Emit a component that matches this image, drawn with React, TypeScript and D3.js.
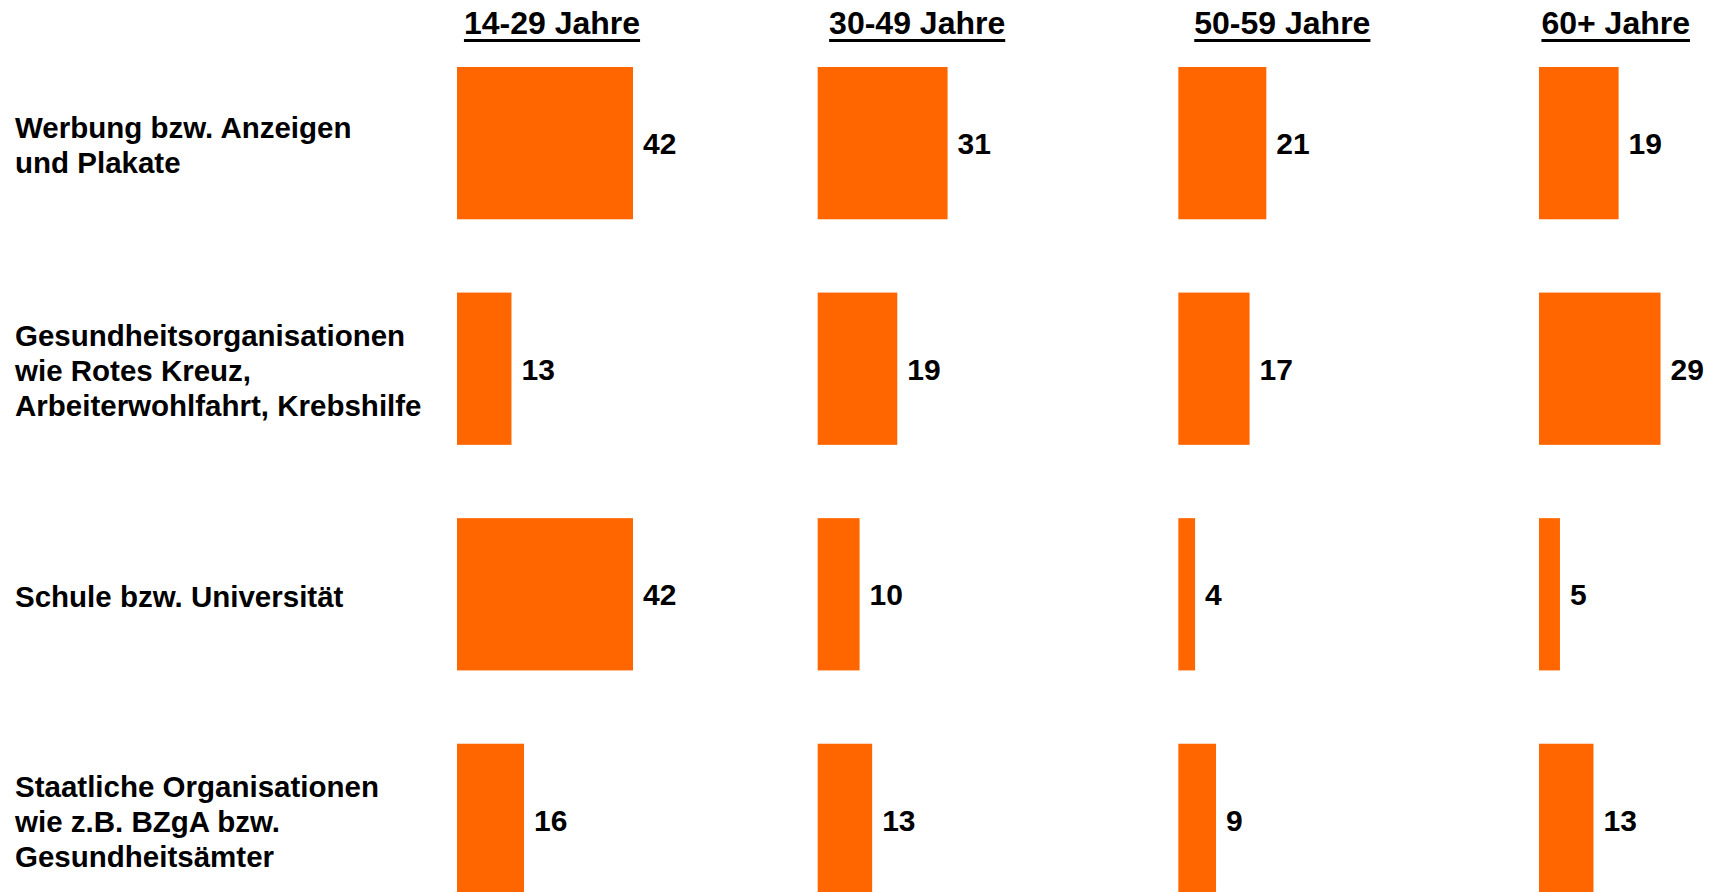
import { useEffect, useRef } from 'react';
import * as d3 from 'd3';

// Age groups (columns) and sources (rows)
const ageGroups = ['14-29 Jahre', '30-49 Jahre', '50-59 Jahre', '60+ Jahre'];

const sources = [
  'Werbung bzw. Anzeigen|und Plakate',
  'Gesundheitsorganisationen|wie Rotes Kreuz,|Arbeiterwohlfahrt, Krebshilfe',
  'Schule bzw. Universität',
  'Staatliche Organisationen|wie z.B. BZgA bzw.|Gesundheitsämter',
];

// values per source, one per age group
const werbung = [42, 31, 21, 19];
const gesundheitsorg = [13, 19, 17, 29];
const schule = [42, 10, 4, 5];
const staatlich = [16, 13, 9, 13];

const seriesValues = [werbung, gesundheitsorg, schule, staatlich];

const WIDTH = 1713;
const HEIGHT = 892;
const ORANGE = '#FF6600';
const FONT = '"Liberation Sans", Arial, Helvetica, sans-serif';

const App = () => {
  const svgRef = useRef<SVGSVGElement>(null);

  useEffect(() => {
    if (!svgRef.current) return;
    const svg = d3.select(svgRef.current);
    svg.selectAll('*').remove();

    const colScale = d3.scalePoint<string>()
      .domain(ageGroups)
      .range([457, 1539]);

    const rowScale = d3.scaleBand<string>()
      .domain(sources)
      .range([67, 896])
      .paddingInner(0.325)
      .paddingOuter(0);

    const valueScale = d3.scaleLinear()
      .domain([0, 42])
      .range([0, 176]);

    // Column titles, underlined
    const titles = svg.append('g');
    ageGroups.forEach((label, i) => {
      const cx = (colScale(label) || 0) + 95 + 4.5 * i;
      const t = titles.append('text')
        .attr('x', cx)
        .attr('y', 34)
        .attr('text-anchor', 'middle')
        .attr('font-family', FONT)
        .attr('font-weight', 'bold')
        .attr('font-size', 32)
        .attr('fill', '#000')
        .text(label);
      const len = (t.node() as SVGTextElement).getComputedTextLength();
      let start = cx - len / 2;
      if (start + len > 1690) {
        start = 1690 - len;
        t.attr('x', start + len / 2);
      }
      titles.append('rect')
        .attr('x', start)
        .attr('y', 39)
        .attr('width', len)
        .attr('height', 3)
        .attr('fill', '#000');
    });

    // Row labels
    sources.forEach((src) => {
      const lines = src.split('|');
      const center = (rowScale(src) || 0) + rowScale.bandwidth() / 2;
      const txt = svg.append('text')
        .attr('font-family', FONT)
        .attr('font-weight', 'bold')
        .attr('font-size', 29.5)
        .attr('fill', '#000');
      lines.forEach((ln, k) => {
        txt.append('tspan')
          .attr('x', 15)
          .attr('y', center + 12.5 + (k - (lines.length - 1) / 2) * 35)
          .text(ln);
      });
    });

    // Bars and value labels
    sources.forEach((src, r) => {
      const y = rowScale(src) || 0;
      const bw = rowScale.bandwidth();
      const g = svg.append('g');
      g.selectAll('rect')
        .data(seriesValues[r])
        .enter().append('rect')
        .attr('x', (_, i) => colScale(ageGroups[i]) || 0)
        .attr('y', y)
        .attr('width', d => valueScale(d))
        .attr('height', bw)
        .attr('fill', ORANGE);

      g.selectAll('text')
        .data(seriesValues[r])
        .enter().append('text')
        .attr('x', (d, i) => (colScale(ageGroups[i]) || 0) + valueScale(d) + 10)
        .attr('y', y + bw / 2 + 11)
        .attr('font-family', FONT)
        .attr('font-weight', 'bold')
        .attr('font-size', 30)
        .attr('fill', '#000')
        .text(d => d);
    });
  }, []);

  return (
    <div style={{ position: 'absolute', left: 0, top: 0, width: WIDTH, height: HEIGHT, background: '#fff' }}>
      <svg ref={svgRef} width={WIDTH} height={HEIGHT} style={{ display: 'block' }} />
    </div>
  );
};

export default App;
